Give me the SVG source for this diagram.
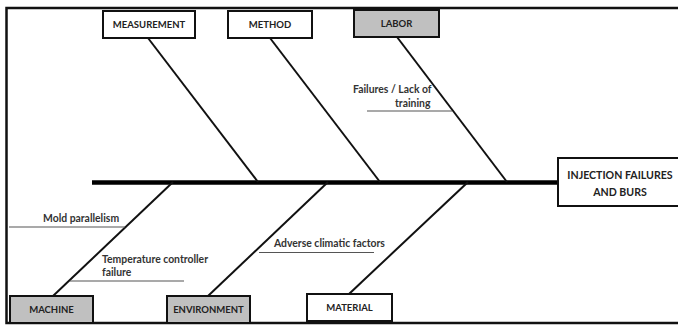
<svg xmlns="http://www.w3.org/2000/svg" width="678" height="325" viewBox="0 0 678 325">
  <style>
    .box { stroke: #111; stroke-width: 2; }
    .plain { fill: #ffffff; }
    .shade { fill: #c0c0c0; }
    .lbl { font-family: Lato, "Open Sans", "Liberation Sans", sans-serif; font-weight: bold; font-size: 9.5px; fill: #222; }
    .head { font-family: Lato, "Open Sans", "Liberation Sans", sans-serif; font-weight: bold; font-size: 10.6px; fill: #222; }
    .cause { font-family: Lato, "Open Sans", "Liberation Sans", sans-serif; font-weight: bold; font-size: 10.4px; fill: #333; }
    .bone { stroke: #111; stroke-width: 2; fill: none; }
    .spine { stroke: #000; stroke-width: 4.5; fill: none; }
    .sub { stroke: #555; stroke-width: 1.2; fill: none; }
  </style>

  <rect x="0" y="0" width="678" height="325" fill="#ffffff"/>
  <!-- outer frame (right side runs past the canvas) -->
  <rect x="6.5" y="8" width="680" height="315" fill="none" stroke="#111" stroke-width="2.5"/>

  <g id="connectors">
    <line class="spine" x1="92" y1="182.5" x2="560" y2="182.5"/>
    <!-- upper bones -->
    <line class="bone" x1="148" y1="38" x2="258" y2="182"/>
    <line class="bone" x1="270" y1="38" x2="380" y2="182"/>
    <line class="bone" x1="397" y1="37" x2="507" y2="182"/>
    <!-- lower bones -->
    <line class="bone" x1="53" y1="296" x2="173" y2="182"/>
    <line class="bone" x1="208" y1="296" x2="328" y2="182"/>
    <line class="bone" x1="349" y1="294" x2="468" y2="182"/>
    <!-- sub-cause underlines -->
    <line class="sub" x1="367" y1="111" x2="452" y2="111"/>
    <line class="sub" x1="9" y1="227" x2="125" y2="227"/>
    <line class="sub" x1="70" y1="281" x2="184" y2="281"/>
    <line class="sub" x1="259" y1="252.5" x2="374" y2="252.5"/>
  </g>

  <g id="measurement">
    <rect class="box plain" x="103" y="11" width="92" height="27"/>
    <text class="lbl" x="149" y="28" text-anchor="middle">MEASUREMENT</text>
  </g>
  <g id="method">
    <rect class="box plain" x="228" y="11" width="84" height="27"/>
    <text class="lbl" x="270" y="28" text-anchor="middle">METHOD</text>
  </g>
  <g id="labor">
    <rect class="box shade" x="354" y="10" width="85" height="27"/>
    <text class="lbl" x="396.5" y="27" text-anchor="middle">LABOR</text>
  </g>
  <g id="machine">
    <rect class="box shade" x="10" y="296" width="83" height="27"/>
    <text class="lbl" x="51.5" y="313" text-anchor="middle">MACHINE</text>
  </g>
  <g id="environment">
    <rect class="box shade" x="167" y="296" width="83" height="27"/>
    <text class="lbl" x="208.5" y="313" text-anchor="middle">ENVIRONMENT</text>
  </g>
  <g id="material">
    <rect class="box plain" x="307" y="294" width="85" height="27"/>
    <text class="lbl" x="349.5" y="311" text-anchor="middle">MATERIAL</text>
  </g>
  <g id="effect">
    <rect class="box plain" x="558" y="158" width="130" height="48"/>
    <text class="head" x="620" y="179" text-anchor="middle">INJECTION FAILURES</text>
    <text class="head" x="620" y="196" text-anchor="middle">AND BURS</text>
  </g>

  <g id="causes">
    <text class="cause" x="353" y="93">Failures / Lack of</text>
    <text class="cause" x="395" y="107">training</text>
    <text class="cause" x="43" y="222">Mold parallelism</text>
    <text class="cause" x="102" y="263">Temperature controller</text>
    <text class="cause" x="102" y="276">failure</text>
    <text class="cause" x="274" y="247">Adverse climatic factors</text>
  </g>
</svg>
